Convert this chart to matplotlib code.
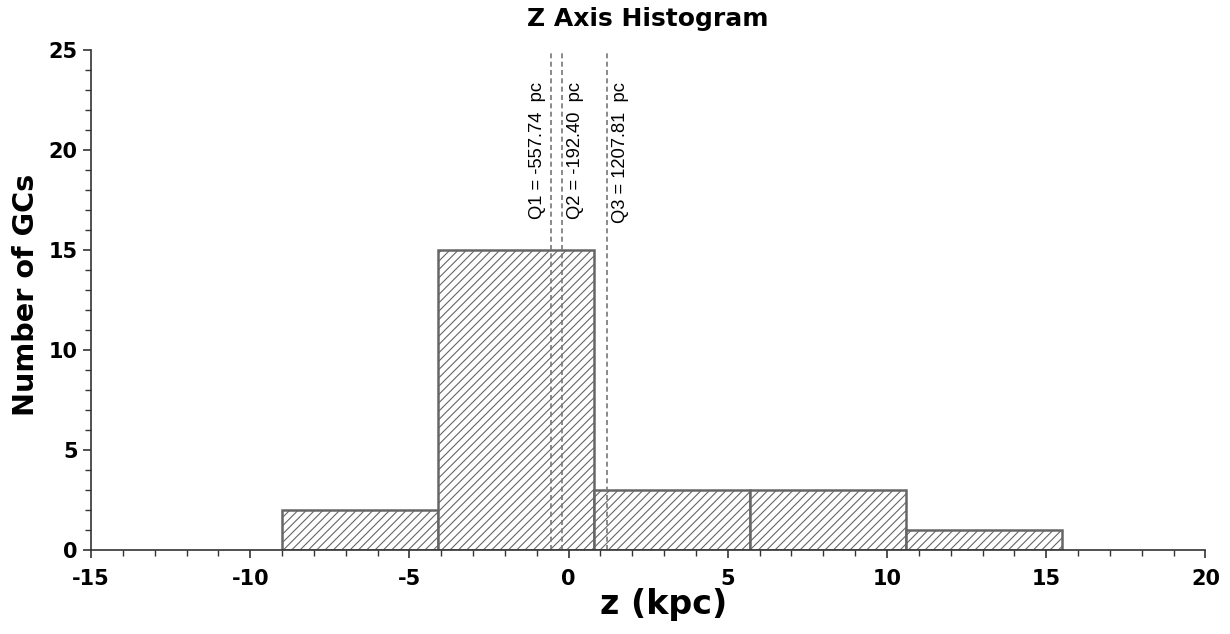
import matplotlib.pyplot as plt
import numpy as np
from matplotlib.ticker import MultipleLocator

# Histogram of globular cluster heights above the plane
bin_edges = np.array([-9.0, -4.1, 0.8, 5.7, 10.6, 15.5])
counts = np.array([2, 15, 3, 3, 1])

# Quartiles in pc
quartile_names = ['Q1', 'Q2', 'Q3']
quartiles_pc = [-557.74, -192.40, 1207.81]

plt.rcParams['axes.unicode_minus'] = False
plt.rcParams['hatch.linewidth'] = 0.8
plt.rcParams['hatch.color'] = '#222222'

fig = plt.figure(figsize=(12.3, 6.34), dpi=100)
ax = fig.add_axes([0.074, 0.1325, 0.906, 0.7885])

ax.bar(bin_edges[:-1], counts, width=np.diff(bin_edges), align='edge',
       facecolor='white', edgecolor='#666666', linewidth=1.8, hatch='////')

# label offsets (kpc) so the Q1/Q2 labels don't collide
label_dx = [-0.42, 0.42, 0.42]
for name, q, dx in zip(quartile_names, quartiles_pc, label_dx):
    qk = q / 1000.0
    ax.axvline(qk, ymin=0, ymax=1.0, color='#777777', linestyle='--',
               linewidth=1.2, dashes=(3, 2))
    ax.text(qk + dx, 23.4, f'{name} = {q:.2f}  pc', rotation=90,
            ha='center', va='top', fontsize=13.2, family='Liberation Sans')

ax.set_xlim(-15, 20)
ax.set_ylim(0, 25)
ax.xaxis.set_major_locator(MultipleLocator(5))
ax.xaxis.set_minor_locator(MultipleLocator(1))
ax.yaxis.set_major_locator(MultipleLocator(5))
ax.yaxis.set_minor_locator(MultipleLocator(1))

for s in ['top', 'right']:
    ax.spines[s].set_visible(False)
for s in ['left', 'bottom']:
    ax.spines[s].set_color('#333333')
    ax.spines[s].set_linewidth(1.2)

ax.tick_params(which='major', direction='out', length=6, width=1.2,
               color='#333333', labelsize=15)
ax.tick_params(axis='x', which='major', pad=8)
ax.tick_params(which='minor', direction='out', length=4, width=1.0,
               color='#333333')
for lbl in ax.get_xticklabels() + ax.get_yticklabels():
    lbl.set_fontweight('bold')

ax.set_xlabel('z (kpc)', fontsize=24, fontweight='bold')
ax.xaxis.set_label_coords(0.514, -0.077)
ax.set_ylabel('Number of GCs', fontsize=20.7, fontweight='bold')
ax.yaxis.set_label_coords(-0.046, 0.51)
ax.set_title('Z Axis Histogram', fontsize=18, fontweight='bold', pad=17)

fig.savefig('out.png', dpi=100)
